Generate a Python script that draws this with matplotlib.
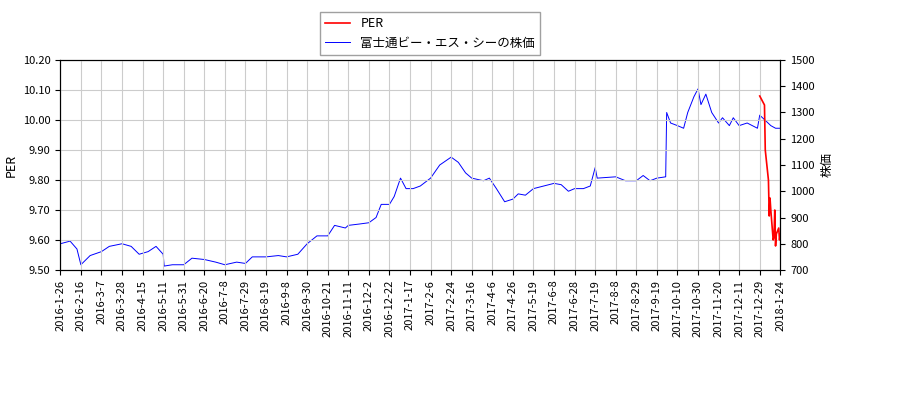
import matplotlib
matplotlib.use("Agg")
import matplotlib.pyplot as plt
import numpy as np
import pandas as pd

plt.rcParams["font.family"] = ["Noto Sans CJK JP", "DejaVu Sans"]

price_dates = [
    "2016-1-26", "2016-2-5", "2016-2-12", "2016-2-16", "2016-2-25", "2016-3-7", "2016-3-15",
    "2016-3-28", "2016-4-5", "2016-4-12", "2016-4-22", "2016-5-2", "2016-5-11", "2016-5-12",
    "2016-5-20", "2016-5-31", "2016-6-8", "2016-6-20", "2016-6-30", "2016-7-8", "2016-7-20",
    "2016-7-29", "2016-8-5", "2016-8-19", "2016-8-31", "2016-9-8", "2016-9-20", "2016-9-30",
    "2016-10-10", "2016-10-21", "2016-10-28", "2016-11-8", "2016-11-11", "2016-11-22",
    "2016-12-2", "2016-12-9", "2016-12-14", "2016-12-22", "2016-12-28", "2017-1-5",
    "2017-1-12", "2017-1-20", "2017-1-27", "2017-2-6", "2017-2-14", "2017-2-24", "2017-3-3",
    "2017-3-10", "2017-3-16", "2017-3-28", "2017-4-3", "2017-4-10", "2017-4-18", "2017-4-26",
    "2017-5-2", "2017-5-10", "2017-5-19", "2017-5-29", "2017-6-8", "2017-6-15", "2017-6-22",
    "2017-6-28", "2017-7-7", "2017-7-14", "2017-7-19", "2017-7-21", "2017-8-8", "2017-8-18",
    "2017-8-29", "2017-9-5", "2017-9-12", "2017-9-19", "2017-9-28", "2017-9-29", "2017-10-3",
    "2017-10-10", "2017-10-16", "2017-10-20", "2017-10-26", "2017-10-30", "2017-11-2",
    "2017-11-7", "2017-11-13", "2017-11-20", "2017-11-24", "2017-12-1", "2017-12-5",
    "2017-12-11", "2017-12-18", "2017-12-27", "2017-12-29", "2018-1-5", "2018-1-12",
    "2018-1-18", "2018-1-24",
]
price = [
    800, 810, 780, 720, 755, 770, 790, 800, 790, 760, 770, 790, 760, 715,
    720, 720, 745, 740, 730, 720, 730, 725, 750, 750, 755, 750, 760, 800,
    830, 830, 870, 860, 870, 875, 880, 900, 950, 950, 980, 1050,
    1010, 1010, 1020, 1050, 1100, 1130, 1110, 1070, 1050, 1040, 1050, 1010, 960, 970,
    990, 985, 1010, 1020, 1030, 1025, 1000, 1010, 1010, 1020, 1090, 1050, 1055, 1040,
    1040, 1060, 1040, 1050, 1055, 1300, 1260, 1250, 1240, 1300, 1360, 1390, 1330,
    1370, 1300, 1260, 1280, 1250, 1280, 1250, 1260, 1240, 1290, 1270, 1250, 1240, 1240,
]

per_dates = ["2017-12-29", "2018-1-4", "2018-1-5", "2018-1-9", "2018-1-10", "2018-1-11",
             "2018-1-12", "2018-1-15", "2018-1-16", "2018-1-17", "2018-1-18", "2018-1-19",
             "2018-1-22", "2018-1-23", "2018-1-24"]
per = [10.08, 10.05, 9.90, 9.80, 9.68, 9.74, 9.70, 9.60, 9.61, 9.70, 9.58, 9.62,
       9.64, 9.60, 9.62]

tick_labels = [
    "2016-1-26", "2016-2-16", "2016-3-7", "2016-3-28", "2016-4-15", "2016-5-11", "2016-5-31",
    "2016-6-20", "2016-7-8", "2016-7-29", "2016-8-19", "2016-9-8", "2016-9-30", "2016-10-21",
    "2016-11-11", "2016-12-2", "2016-12-22", "2017-1-17", "2017-2-6", "2017-2-24", "2017-3-16",
    "2017-4-6", "2017-4-26", "2017-5-19", "2017-6-8", "2017-6-28", "2017-7-19", "2017-8-8",
    "2017-8-29", "2017-9-19", "2017-10-10", "2017-10-30", "2017-11-20", "2017-12-11",
    "2017-12-29", "2018-1-24",
]


# Trading-day axis: each date maps to a position interpolated between the
# evenly spaced tick dates (the reference axis is categorical by session).
tick_dt = pd.to_datetime(tick_labels)
tick_num = tick_dt.values.astype("int64")


def pos(dates):
    d = pd.to_datetime(dates).values.astype("int64")
    return np.interp(d, tick_num, np.arange(len(tick_labels)))


fig = plt.figure(figsize=(9, 4), dpi=100)
ax = fig.add_axes([0.067, 0.325, 0.8, 0.525])
ax2 = ax.twinx()

l1, = ax.plot(pos(per_dates), per, color="red", lw=1.2, label="PER")
l2, = ax2.plot(pos(price_dates), price, color="blue", lw=0.7)
ax.set_zorder(ax2.get_zorder() + 1)
ax.patch.set_visible(False)

ax.set_ylim(9.5, 10.2)
ax.set_yticks([9.5 + 0.1 * i for i in range(8)])
ax.set_yticklabels([f"{9.5 + 0.1 * i:.2f}" for i in range(8)], fontsize=8)
ax2.set_ylim(700, 1500)
ax2.set_yticks(range(700, 1501, 100))
ax2.tick_params(labelsize=8)
ax.set_xlim(0, len(tick_labels) - 1)
ax.set_xticks(range(len(tick_labels)))
ax.set_xticklabels(tick_labels, rotation=90, fontsize=8)
ax.grid(True, color="#cccccc")
ax.set_ylabel("PER", fontsize=9)
ax2.set_ylabel("株価", fontsize=9)

fig.legend([l1, l2], ["PER", "富士通ビー・エス・シーの株価"], loc="upper center",
           bbox_to_anchor=(0.478, 0.985), fontsize=9, fancybox=False, edgecolor="#888888")

fig.savefig("out.png")
